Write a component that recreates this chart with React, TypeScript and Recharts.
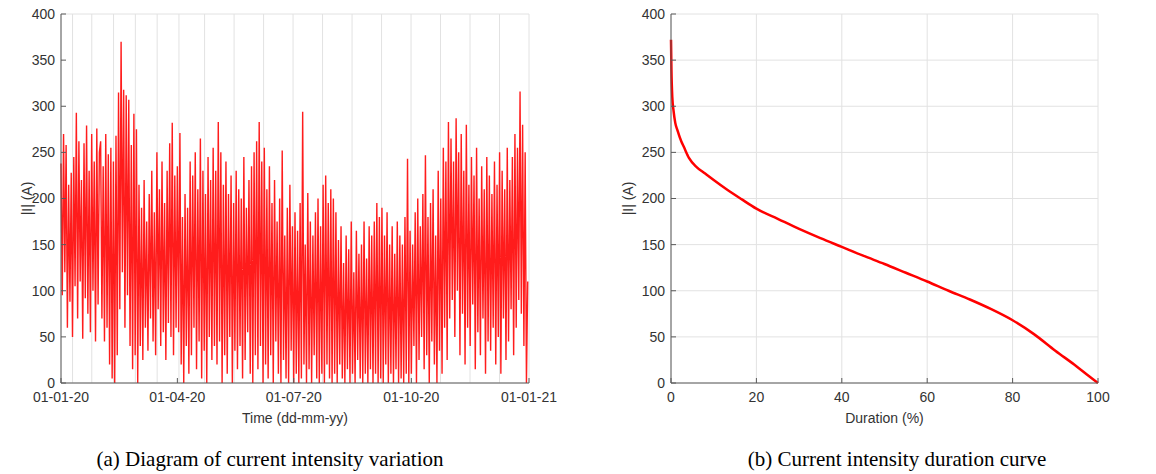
import React from "react";
import { LineChart, Line, XAxis, YAxis, CartesianGrid } from "recharts";

// ---------- (a) daily current intensity (A), 2020 ----------
const janValues = [238, 95, 270, 120, 258, 60, 215, 88, 228, 50, 245, 105, 293, 70, 262, 110, 220, 48, 260, 92, 279, 75, 230, 55, 270, 100, 240, 45, 276, 85, 250];
const febValues = [262, 70, 235, 45, 270, 60, 248, 20, 255, 5, 240, 0, 268, 30, 315, 80, 370, 120, 318, 60, 312, 95, 307, 40, 258, 15, 292, 30, 275];
const marValues = [0, 215, 40, 190, 25, 220, 60, 175, 35, 205, 70, 230, 45, 185, 30, 250, 80, 210, 40, 240, 55, 195, 25, 230, 65, 260, 50, 282, 30, 225, 60];
const aprValues = [235, 55, 271, 20, 180, 0, 205, 40, 190, 10, 240, 30, 225, 60, 250, 15, 210, 45, 265, 5, 230, 35, 205, 0, 245, 50, 220, 25, 255, 40];
const mayValues = [230, 20, 283, 45, 250, 0, 215, 30, 240, 10, 205, 50, 225, 0, 195, 35, 230, 15, 210, 40, 200, 5, 245, 25, 190, 55, 220, 10, 235, 0, 250];
const junValues = [30, 262, 15, 283, 40, 240, 0, 255, 20, 210, 5, 235, 30, 195, 0, 220, 45, 175, 10, 200, 0, 252, 25, 160, 5, 190, 0, 215, 35, 170];
const julValues = [0, 185, 10, 165, 0, 195, 5, 294, 20, 150, 0, 206, 15, 175, 0, 160, 30, 185, 5, 200, 0, 170, 10, 215, 0, 225, 20, 195, 5, 210, 0];
const augValues = [200, 10, 185, 0, 155, 20, 170, 5, 130, 0, 160, 15, 145, 0, 175, 10, 120, 0, 165, 25, 140, 5, 150, 0, 175, 10, 135, 0, 170, 15, 160];
const sepValues = [0, 175, 10, 195, 0, 180, 5, 190, 0, 160, 20, 185, 0, 150, 10, 170, 0, 140, 15, 175, 0, 160, 5, 150, 0, 180, 10, 243, 0, 165];
const octValues = [10, 150, 40, 185, 0, 200, 25, 170, 50, 205, 15, 247, 30, 180, 0, 195, 45, 210, 20, 160, 0, 230, 35, 200, 10, 255, 60, 240, 25, 283, 70];
const novValues = [265, 90, 240, 50, 287, 100, 250, 30, 270, 75, 230, 20, 280, 60, 215, 40, 245, 85, 225, 15, 255, 55, 200, 30, 235, 70, 210, 10, 245, 45];
const decValues = [225, 35, 205, 60, 240, 20, 215, 50, 250, 10, 230, 70, 210, 25, 255, 45, 220, 80, 245, 30, 270, 60, 255, 90, 316, 75, 280, 40, 250, 0, 110];

const timeTickDays = [0, 91, 182, 274, 366];
const timeTickLabels = ["01-01-20", "01-04-20", "01-07-20", "01-10-20", "01-01-21"];
const currentTicks = [0, 50, 100, 150, 200, 250, 300, 350, 400];

// ---------- (b) duration curve ----------
const durationPct = [0, 0.1, 0.3, 0.6, 1, 1.5, 2.4, 3, 4.2, 6, 8, 10, 13, 16.6, 20, 25, 30, 35, 40, 45, 50, 55, 60, 65, 70, 75, 80, 85, 90, 95, 98, 100];
const durationValues = [372, 340, 310, 295, 282, 274, 262, 256, 244, 234, 227, 220, 210, 199, 189, 178, 167, 157, 147.5, 138, 129, 119.5, 110, 100, 90.5, 80, 68, 53, 35, 18, 7, 0];
const durationTicks = [0, 20, 40, 60, 80, 100];

const dailyValues = [
  ...janValues, ...febValues, ...marValues, ...aprValues, ...mayValues, ...junValues,
  ...julValues, ...augValues, ...sepValues, ...octValues, ...novValues, ...decValues,
];
const timeData = dailyValues.map((v, i) => ({ day: i, current: v }));
const durationData = durationPct.map((p, i) => ({ pct: p, current: durationValues[i] }));

const FONT = "'Liberation Sans', Arial, Helvetica, sans-serif";
const AXIS = "#5a5a5a";
const TEXT = "#333333";
const GRID = "#e2e2e2";
const tickStyle = { fontSize: 14, fill: TEXT, fontFamily: FONT };

const captionStyle: React.CSSProperties = {
  position: "absolute",
  top: 447,
  fontFamily: "'Liberation Serif', 'Times New Roman', serif",
  fontSize: 21,
  color: "#000",
  whiteSpace: "nowrap",
  transform: "translateX(-50%)",
};

export default function App() {
  return (
    <div style={{ position: "absolute", left: 0, top: 0, width: 1156, height: 474, background: "#fff", overflow: "hidden" }}>
      <div style={{ position: "absolute", left: 0, top: 0 }}>
        <LineChart width={560} height={430} data={timeData} margin={{ top: 14, right: 31, bottom: 0, left: 0 }}>
          <CartesianGrid stroke={GRID} strokeWidth={1} />
          <XAxis
            xAxisId="b"
            dataKey="day"
            type="number"
            domain={[0, 366]}
            ticks={timeTickDays}
            tickFormatter={(d: number) => timeTickLabels[timeTickDays.indexOf(d)]}
            height={47}
            tickSize={-5}
            tickMargin={14}
            stroke={AXIS}
            tick={tickStyle}
            interval={0}
            label={{ value: "Time (dd-mm-yy)", position: "center", dy: 12, style: { fontSize: 14, fill: TEXT, fontFamily: FONT } }}
          />
          <XAxis xAxisId="t" orientation="top" type="number" domain={[0, 366]} ticks={timeTickDays} height={0} tickSize={-5} tick={false} stroke={AXIS} />
          <YAxis
            yAxisId="l"
            type="number"
            domain={[0, 400]}
            ticks={currentTicks}
            width={61}
            tickSize={-5}
            tickMargin={11}
            stroke={AXIS}
            tick={tickStyle}
            interval={0}
            label={{ value: "|I| (A)", position: "center", angle: -90, dx: -3, style: { fontSize: 14, fill: TEXT, fontFamily: FONT, textAnchor: "middle" } }}
          />
          <YAxis yAxisId="r" orientation="right" type="number" domain={[0, 400]} ticks={currentTicks} width={0} tickSize={-5} tick={false} stroke={AXIS} />
          <Line xAxisId="b" yAxisId="l" type="linear" dataKey="current" stroke="#ff1010" strokeWidth={1.4} strokeOpacity={0.95} dot={false} isAnimationActive={false} />
        </LineChart>
      </div>
      <div style={{ position: "absolute", left: 580, top: 0 }}>
        <LineChart width={560} height={430} data={durationData} margin={{ top: 14, right: 42, bottom: 0, left: 0 }}>
          <CartesianGrid stroke={GRID} strokeWidth={1} />
          <XAxis
            dataKey="pct"
            type="number"
            domain={[0, 100]}
            ticks={durationTicks}
            height={47}
            tickSize={-5}
            tickMargin={14}
            stroke={AXIS}
            tick={tickStyle}
            interval={0}
            label={{ value: "Duration (%)", position: "center", dy: 12, style: { fontSize: 14, fill: TEXT, fontFamily: FONT } }}
          />
          <YAxis
            type="number"
            domain={[0, 400]}
            ticks={currentTicks}
            width={91}
            tickSize={-5}
            tickMargin={11}
            stroke={AXIS}
            tick={tickStyle}
            interval={0}
            label={{ value: "|I| (A)", position: "center", angle: -90, dx: 3, style: { fontSize: 14, fill: TEXT, fontFamily: FONT, textAnchor: "middle" } }}
          />
          <Line type="monotone" dataKey="current" stroke="#ff0000" strokeWidth={2.5} dot={false} isAnimationActive={false} />
        </LineChart>
      </div>
      <div style={{ ...captionStyle, left: 270 }}>(a) Diagram of current intensity variation</div>
      <div style={{ ...captionStyle, left: 897 }}>(b) Current intensity duration curve</div>
    </div>
  );
}
